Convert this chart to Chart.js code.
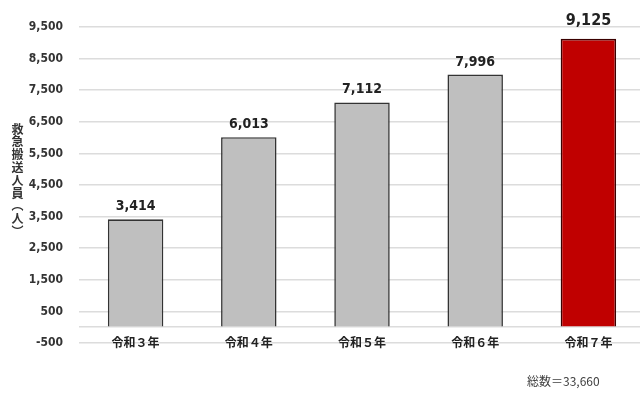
<!DOCTYPE html>
<html><head><meta charset="utf-8">
<script src="https://cdn.jsdelivr.net/npm/chart.js@4/dist/chart.umd.min.js"></script>
<style>
html,body{margin:0;padding:0;background:#fff;overflow:hidden;width:640px;height:400px;}
#wrap{position:relative;width:660px;height:400px;}
#c{position:absolute;left:0;top:0;}
#ytitle{position:absolute;left:10px;top:123px;writing-mode:vertical-rl;text-orientation:upright;font-family:"Noto Sans CJK JP";font-weight:bold;font-size:12px;color:#333;letter-spacing:0.8px;line-height:14px;}
#total{position:absolute;left:527px;top:372px;font-family:"Noto Sans CJK JP";font-size:12px;color:#404040;white-space:nowrap;}
</style></head>
<body><div id="wrap"><canvas id="c" width="660" height="400"></canvas><div id="ytitle"></div><div id="total"></div></div>
<script>
const categories = ['令和３年', '令和４年', '令和５年', '令和６年', '令和７年'];
const values = [3414, 6013, 7112, 7996, 9125];
const barColors = ['#bfbfbf', '#bfbfbf', '#bfbfbf', '#bfbfbf', '#c00000'];
const borderColors = ['#333333', '#333333', '#333333', '#333333', '#3a0000'];
const yMin = -500;
const yMax = 9500;
const yStep = 1000;
const yTitle = '救急搬送人員（人）';
const totalLabel = '総数＝33,660';

document.getElementById('ytitle').textContent = yTitle;
document.getElementById('total').textContent = totalLabel;

const numFont = '"Liberation Sans Narrow", "DejaVu Sans Condensed", "Noto Sans CJK JP", sans-serif';
const fmt = v => v.toLocaleString('en-US');

const valueLabels = {
  id: 'valueLabels',
  afterDatasetsDraw(chart) {
    const ctx = chart.ctx;
    const meta = chart.getDatasetMeta(0);
    meta.data.forEach((bar, i) => {
      const last = i === values.length - 1;
      ctx.save();
      ctx.font = (last ? 'bold 16px ' : 'bold 14px ') + numFont;
      ctx.fillStyle = '#222';
      ctx.textAlign = 'center';
      ctx.textBaseline = 'alphabetic';
      ctx.fillText(fmt(values[i]), bar.x, bar.y - (last ? 14 : 9));
      ctx.restore();
    });
  }
};

new Chart(document.getElementById('c'), {
  type: 'bar',
  data: {
    labels: categories,
    datasets: [{
      data: values,
      backgroundColor: barColors,
      borderColor: borderColors,
      borderWidth: 1.6,
      categoryPercentage: 1,
      barPercentage: 0.49
    }]
  },
  options: {
    responsive: false,
    animation: false,
    devicePixelRatio: 1,
    layout: { padding: { left: 0, right: 15, top: 27, bottom: 0 } },
    plugins: { legend: { display: false }, tooltip: { enabled: false } },
    scales: {
      x: {
        grid: { display: false, drawTicks: false },
        border: { display: false },
        ticks: {
          mirror: true,
          padding: -7,
          color: '#222',
          font: { family: '"Noto Sans CJK JP"', weight: 'bold', size: 12 }
        },
        afterFit(scale) { scale.height = 57; }
      },
      y: {
        min: yMin,
        max: yMax,
        grid: { color: '#dcdcdc', lineWidth: 1.5, drawTicks: false },
        border: { display: false },
        ticks: {
          stepSize: yStep,
          autoSkip: false,
          padding: 16,
          color: '#333',
          font: { family: numFont, weight: 'bold', size: 12 },
          callback: v => (v === 0 ? '' : fmt(v))
        },
        afterBuildTicks(scale) {
          scale.ticks.push({ value: 0 });
        },
        afterFit(scale) { scale.width = 79; }
      }
    }
  },
  plugins: [valueLabels]
});
</script>
</body></html>
